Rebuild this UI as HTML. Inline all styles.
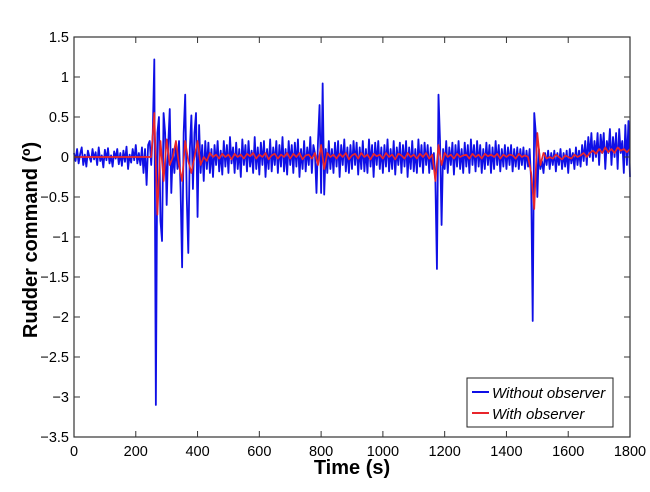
<!DOCTYPE html>
<html><head><meta charset="utf-8"><style>
html,body{margin:0;padding:0;background:#fff;}
svg{display:block;font-family:"Liberation Sans",Arial,sans-serif;}
</style></head><body>
<svg id="chart" width="650" height="492" viewBox="0 0 650 492">
<g id="grid"></g>
<g id="series"></g>
<g id="axes"></g>
</svg>
<script>
const xTicks=[0,200,400,600,800,1000,1200,1400,1600,1800];
const yTicks=[1.5,1,0.5,0,-0.5,-1,-1.5,-2,-2.5,-3,-3.5];
const yTickLabels=["1.5","1","0.5","0","-0.5","-1","-1.5","-2","-2.5","-3","-3.5"];
const seriesNames=["Without observer","With observer"];
const tStart=0, tEnd=1800;
const blueValues=[
0.05,-0.05,0.1,-0.08,0.04,0.12,-0.1,0.03,-0.12,0.08,
0.0,-0.06,0.1,-0.03,0.06,-0.1,0.12,-0.05,0.02,-0.13,
0.09,-0.04,0.11,-0.08,0.02,-0.12,0.07,-0.02,0.1,-0.09,
0.05,-0.11,0.08,-0.06,0.13,-0.15,0.03,-0.07,0.1,-0.04,
0.15,-0.08,0.05,-0.1,0.12,-0.2,0.1,-0.35,0.15,0.2,
-0.1,0.3,1.22,-3.1,0.3,0.5,-0.8,-1.05,0.55,0.3,
-0.6,0.15,0.6,-0.45,0.1,-0.2,0.15,-0.15,0.2,-0.4,
-1.38,0.3,0.78,-0.5,-1.2,0.1,0.52,-0.4,0.3,0.55,
-0.75,0.4,-0.2,0.15,-0.3,0.2,-0.15,0.18,-0.2,0.1,
-0.25,0.15,-0.1,0.2,-0.18,0.08,-0.22,0.2,-0.12,0.15,
-0.2,0.25,-0.08,0.12,-0.2,0.18,-0.15,0.1,-0.25,0.22,
-0.1,0.15,-0.18,0.2,-0.12,0.08,-0.2,0.25,-0.15,0.12,
-0.22,0.18,-0.1,0.2,-0.25,0.1,-0.15,0.22,-0.18,0.12,
-0.1,0.2,-0.2,0.15,-0.12,0.25,-0.18,0.1,-0.22,0.2,
-0.1,0.15,-0.2,0.18,-0.12,0.22,-0.25,0.1,-0.15,0.2,
-0.18,0.12,-0.1,0.25,-0.2,0.15,0.05,-0.45,0.2,0.65,
-0.45,0.92,-0.47,0.1,-0.2,0.2,-0.15,0.1,-0.2,0.18,
-0.12,0.2,-0.25,0.15,-0.1,0.22,-0.18,0.12,-0.2,0.15,
-0.15,0.2,-0.1,0.18,-0.22,0.12,-0.15,0.2,-0.18,0.1,
-0.2,0.22,-0.12,0.15,-0.25,0.18,-0.1,0.2,-0.15,0.12,
-0.2,0.15,-0.12,0.22,-0.18,0.1,-0.15,0.2,-0.22,0.12,
-0.1,0.18,-0.2,0.15,-0.12,0.2,-0.25,0.12,-0.15,0.2,
-0.18,0.1,-0.2,0.22,-0.12,0.15,-0.2,0.18,-0.1,0.15,
-0.2,0.12,-0.15,0.05,-0.3,-1.4,0.78,0.2,-0.85,0.1,
-0.15,0.2,-0.2,0.12,-0.1,0.18,-0.22,0.15,-0.12,0.2,
-0.15,0.1,-0.2,0.18,-0.12,0.15,-0.2,0.22,-0.1,0.15,
-0.18,0.2,-0.12,0.15,-0.2,0.1,-0.15,0.18,-0.1,0.15,
-0.2,0.12,-0.15,0.2,-0.1,0.15,-0.18,0.1,-0.12,0.15,
-0.15,0.12,-0.1,0.15,-0.18,0.1,-0.12,0.12,-0.15,0.1,
-0.1,0.12,-0.15,0.08,-0.12,0.1,-0.3,-2.05,0.55,0.3,
-0.5,0.1,-0.15,-0.05,-0.2,0.05,-0.1,0.08,-0.15,0.05,
-0.1,0.08,-0.18,0.05,-0.1,0.1,-0.15,0.05,-0.12,0.08,
-0.2,0.1,-0.08,0.05,-0.15,0.12,-0.1,0.08,-0.12,0.15,
-0.05,0.2,-0.1,0.25,0.0,0.3,-0.05,0.2,0.0,0.3,
-0.1,0.28,0.05,0.3,-0.15,0.2,0.05,0.35,-0.1,0.25,
0.0,0.3,-0.15,0.35,0.05,0.2,-0.2,0.4,-0.1,0.45,
-0.25];
const redValues=[
0,0,0,0,0,0,0,0,0,0,
0,0,0,0,0,0,0,0,0,0,
0,0,0,0,0,0,0.55,-0.72,0.2,-0.3,
0.22,-0.1,0.0,0.2,-0.1,-0.3,0.2,-0.05,-0.2,0.0,
0.2,-0.1,0.0,-0.05,0.05,0.0,0.03,-0.02,0.04,0.0,
0.03,-0.03,0.04,0.0,0.03,-0.02,0.04,0.01,0.05,-0.02,
0.03,0.0,0.05,-0.03,0.02,0.04,-0.02,0.03,0.0,0.05,
-0.02,0.04,0.0,0.05,-0.03,0.02,0.03,-0.02,0.05,-0.1,
0.15,-0.15,0.05,0.0,0.03,-0.02,0.04,0.0,0.05,-0.03,
0.02,0.04,-0.02,0.05,0.0,0.03,-0.03,0.04,0.01,0.03,
-0.02,0.05,0.0,0.03,-0.03,0.04,0.02,-0.02,0.05,0.0,
0.03,-0.02,0.04,0.0,0.05,-0.02,0.03,-0.3,0.15,-0.1,
0.05,0.0,0.03,-0.02,0.04,0.0,0.02,0.03,-0.02,0.04,
0.0,0.03,-0.02,0.04,0.01,0.03,0.0,0.04,-0.02,0.03,
0.0,0.03,0.02,-0.02,0.04,0.0,0.02,0.0,-0.2,-0.65,
0.3,-0.1,0.05,-0.02,0.0,-0.02,0.03,0.0,-0.03,0.02,
0.0,-0.02,0.03,0.0,0.02,0.05,0.0,0.05,0.08,0.04,
0.1,0.05,0.12,0.06,0.1,0.05,0.12,0.08,0.1,0.06,
0.1];

const L=74,R=630,T=37,B=437,yMax=1.5,yMin=-3.5;
function xs(t){return L+(t-tStart)/(tEnd-tStart)*(R-L);}
function ys(v){return T+(yMax-v)/(yMax-yMin)*(B-T);}
const NS="http://www.w3.org/2000/svg";
function mk(tag,attrs,parent){const e=document.createElementNS(NS,tag);for(const k in attrs)e.setAttribute(k,attrs[k]);parent.appendChild(e);return e;}
const series=document.getElementById('series'),axes=document.getElementById('axes');

function line(vals,color,name,w){
  const n=vals.length;let d='';
  vals.forEach((v,i)=>{const t=tStart+i*(tEnd-tStart)/(n-1);d+=(i?'L':'M')+xs(t).toFixed(2)+' '+ys(v).toFixed(2);});
  const p=mk('path',{d:d,fill:'none',stroke:color,'stroke-width':w,'stroke-linejoin':'round'},series);
  
  
}
line(blueValues,'#0f0fe6','line-without-observer',1.8);
line(redValues,'#e8252b','line-with-observer',1.7);

const box=mk('rect',{x:L,y:T,width:R-L,height:B-T,fill:'none',stroke:'#333','stroke-width':1.2},axes);



xTicks.forEach(t=>{
  const x=xs(t);
  mk('line',{x1:x,y1:B,x2:x,y2:B-6,stroke:'#333','stroke-width':1},axes);
  mk('line',{x1:x,y1:T,x2:x,y2:T+6,stroke:'#333','stroke-width':1},axes);
  const tx=mk('text',{x:x,y:B+19,'font-size':14.5,'text-anchor':'middle',fill:'#000'},axes);
  tx.textContent=String(t);
  
  
});
yTicks.forEach((v,i)=>{
  const y=ys(v);
  mk('line',{x1:L,y1:y,x2:L+6,y2:y,stroke:'#333','stroke-width':1},axes);
  mk('line',{x1:R,y1:y,x2:R-6,y2:y,stroke:'#333','stroke-width':1},axes);
  const tx=mk('text',{x:L-5,y:y+5,'font-size':14.5,'text-anchor':'end',fill:'#000'},axes);
  tx.textContent=yTickLabels[i].replace('-','\u2212');
  
  
});
const xl=mk('text',{x:352,y:474,'font-size':20,'font-weight':'bold','text-anchor':'middle',fill:'#000'},axes);
xl.textContent='Time (s)';


const yl=mk('text',{x:0,y:0,'font-size':20,'font-weight':'bold','text-anchor':'middle',fill:'#000',transform:'translate(37,240) rotate(-90)'},axes);
yl.textContent='Rudder command (º)';



const lg=mk('g',{},axes);


mk('rect',{x:467,y:378,width:146,height:49,fill:'#fff',stroke:'#222','stroke-width':1},lg);
const colors=['#0f0fe6','#e8252b'];
seriesNames.forEach((s,i)=>{
  const y=392+i*21;
  const g=mk('g',{},lg);
  
  
  mk('line',{x1:472,y1:y,x2:489,y2:y,stroke:colors[i],'stroke-width':2},g);
  const t=mk('text',{x:492,y:y+6,'font-size':15,'font-style':'italic',fill:'#000'},g);
  t.textContent=s;
});
</script>
</body></html>
